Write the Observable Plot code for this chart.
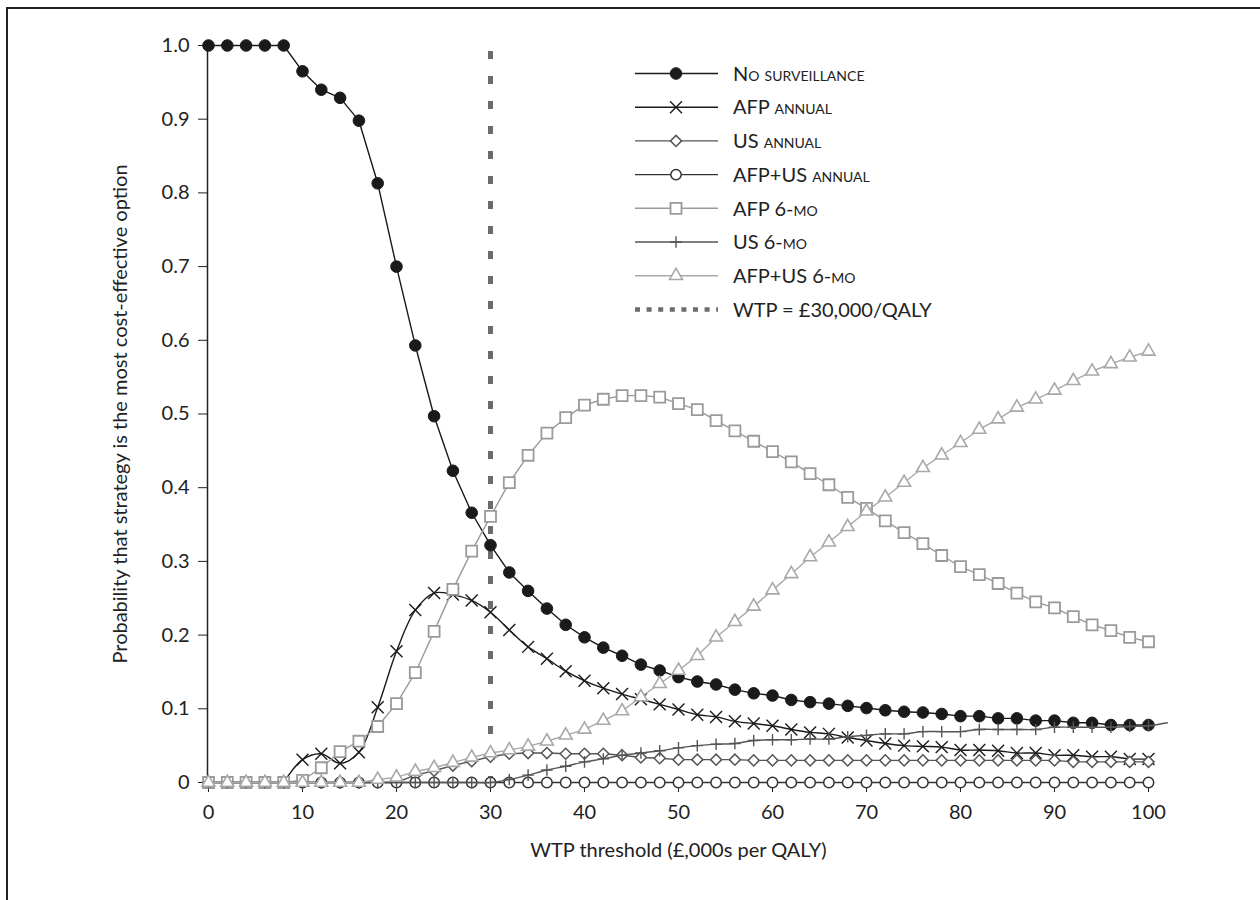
<!DOCTYPE html>
<html><head><meta charset="utf-8">
<script src="https://cdn.jsdelivr.net/npm/d3@7"></script>
<script src="https://cdn.jsdelivr.net/npm/@observablehq/plot@0.6"></script>
<style>
html,body{margin:0;padding:0;background:#fff;}
#chart{position:relative;width:1260px;height:900px;}
</style></head><body><div id="chart"></div>
<script>
// ---- data ----
const wtp = [0,2,4,6,8,10,12,14,16,18,20,22,24,26,28,30,32,34,36,38,40,42,44,46,48,50,52,54,56,58,60,62,64,66,68,70,72,74,76,78,80,82,84,86,88,90,92,94,96,98,100];
const noSurveillance = [1.0,1.0,1.0,1.0,1.0, 0.965,0.940,0.929,0.898,0.813, 0.700,0.593,0.497,0.423,0.366, 0.322,0.285,0.260,0.236,0.214, 0.197,0.183,0.172,0.160,0.152, 0.143,0.137,0.133,0.126,0.121, 0.118,0.112,0.109,0.107,0.104, 0.101,0.098,0.096,0.095,0.093, 0.090,0.090,0.087,0.087,0.084, 0.084,0.081,0.081,0.078,0.078, 0.078];
const afpAnnual = [null,null,null,null,0, 0.031,0.039,0.026,0.041,0.102, 0.178,0.234,0.257,0.255,0.247, 0.231,0.207,0.184,0.168,0.151, 0.138,0.128,0.120,0.113,0.106, 0.099,0.092,0.089,0.083,0.080, 0.077,0.072,0.068,0.066,0.061, 0.057,0.053,0.050,0.049,0.048, 0.044,0.044,0.043,0.040,0.040, 0.037,0.037,0.035,0.035,0.032, 0.032];
const usAnnual = [0,0,0,0,0, 0,0,0,0,0, 0,0.010,0.016,0.023,0.029, 0.035,0.039,0.040,0.040,0.039, 0.039,0.039,0.037,0.034,0.033, 0.031,0.031,0.031,0.031,0.030, 0.030,0.030,0.030,0.030,0.030, 0.030,0.030,0.030,0.030,0.030, 0.030,0.030,0.030,0.030,0.030, 0.030,0.028,0.028,0.028,0.028, 0.028];
const afpUsAnnual = [0,0,0,0,0, 0,0,0,0,0, 0,0,0,0,0, 0,0,0,0,0, 0,0,0,0,0, 0,0,0,0,0, 0,0,0,0,0, 0,0,0,0,0, 0,0,0,0,0, 0,0,0,0,0, 0];
const afp6mo = [0,0,0,0,0, 0.003,0.020,0.042,0.056,0.076, 0.107,0.149,0.205,0.262,0.314, 0.361,0.407,0.444,0.474,0.495, 0.512,0.520,0.525,0.525,0.523, 0.514,0.506,0.491,0.477,0.463, 0.449,0.435,0.419,0.404,0.387, 0.372,0.355,0.339,0.324,0.308, 0.293,0.282,0.270,0.257,0.245, 0.237,0.225,0.214,0.206,0.197, 0.191];
const us6mo = [0,0,0,0,0, 0,0,0,0,0, 0,0,0,0,0, 0,0.004,0.010,0.017,0.022, 0.028,0.032,0.037,0.040,0.043, 0.047,0.050,0.052,0.053,0.057, 0.058,0.058,0.059,0.059,0.062, 0.064,0.066,0.066,0.069,0.069, 0.069,0.072,0.072,0.072,0.072, 0.075,0.075,0.075,0.075,0.076, 0.077];
const us6moLineEnd = {wtp: 102, p: 0.081};
const afpUs6mo = [0,0,0,0,0, 0,0,0,0,0.004, 0.007,0.015,0.020,0.027,0.034, 0.040,0.044,0.049,0.056,0.064, 0.072,0.084,0.097,0.116,0.134, 0.152,0.172,0.197,0.218,0.239, 0.261,0.283,0.306,0.326,0.347, 0.368,0.387,0.407,0.427,0.444, 0.461,0.479,0.493,0.509,0.520, 0.532,0.545,0.558,0.568,0.577, 0.585];

const seriesNames = ["No surveillance","AFP annual","US annual","AFP+US annual","AFP 6-mo","US 6-mo","AFP+US 6-mo"];
const seriesValues = [noSurveillance, afpAnnual, usAnnual, afpUsAnnual, afp6mo, us6mo, afpUs6mo];
const wtpThreshold = 30;
const wtpLegend = "WTP = £30,000/QALY";
const xTicks = [0,10,20,30,40,50,60,70,80,90,100];
const yTicks = [0,0.1,0.2,0.3,0.4,0.5,0.6,0.7,0.8,0.9,1.0];
const yTickLabels = ["0","0.1","0.2","0.3","0.4","0.5","0.6","0.7","0.8","0.9","1.0"];
const xTitle = "WTP threshold (£,000s per QALY)";
const yTitle = "Probability that strategy is the most cost-effective option";

// ---- styles ----
const styles = [
  {symbol:"circle",   r:5.8, fill:"#1a1a1a", stroke:"#1a1a1a", sw:1,   line:"#1a1a1a", curve:"linear"},
  {symbol:"times",    r:5.5, fill:"none",    stroke:"#1a1a1a", sw:1.4, line:"#1a1a1a", curve:"catmull-rom"},
  {symbol:"diamond2", r:5.0, fill:"white",   stroke:"#555",    sw:1.5, line:"#555",    curve:"linear"},
  {symbol:"circle",   r:5.2, fill:"white",   stroke:"#333",    sw:1.5, line:"#333",    curve:"linear"},
  {symbol:"square",   r:6.2, fill:"white",   stroke:"#9a9a9a", sw:1.8, line:"#9a9a9a", curve:"linear"},
  {symbol:"plus",     r:3.8, fill:"none",    stroke:"#555",    sw:1.4, line:"#555",    curve:"catmull-rom"},
  {symbol:"triangle", r:4.8, fill:"white",   stroke:"#a8a8a8", sw:1.6, line:"#a8a8a8", curve:"linear"}
];

const series = seriesValues.map((vals, s) =>
  wtp.map((x, i) => ({wtp: x, p: vals[i]})).filter(d => d.p != null));

const marks = [
  Plot.ruleX([wtpThreshold], {stroke:"#6b6b6b", strokeWidth:5, strokeDasharray:"8,17", insetTop:6, insetBottom:-10}),
  Plot.ruleX([0], {stroke:"#222", strokeWidth:1.5, dx:-1})
];
series.forEach((data, s) => {
  const st = styles[s];
  const lineData = s === 5 ? data.concat([us6moLineEnd]) : data;
  marks.push(Plot.line(lineData, {x:"wtp", y:"p", stroke:st.line, strokeWidth:1.4, curve:st.curve}));
  const dotData = s === 1 ? data.filter(d => d.p > 0) : data;
  marks.push(Plot.dot(dotData, {x:"wtp", y:"p", symbol:st.symbol, r:st.r, fill:st.fill, stroke:st.stroke, strokeWidth:st.sw}));
});
marks.push(Plot.text([xTitle], {frameAnchor:"bottom", dy:74, fontSize:20, fill:"#222", textAnchor:"middle"}));
marks.push(Plot.text([yTitle], {frameAnchor:"left", dx:-88, rotate:-90, fontSize:20, fill:"#222", textAnchor:"middle"}));

const plot = Plot.plot({
  width: 1260, height: 900,
  marginTop: 45, marginBottom: 118, marginLeft: 208, marginRight: 112,
  style: {fontFamily: "Lato, 'Open Sans', sans-serif", fontSize: "20px", color: "#222", background: "white", overflow: "visible"},
  x: {domain: [0, 100], ticks: xTicks, tickSize: 10, tickPadding: 12, tickFormat: d => String(d), label: null},
  y: {domain: [0, 1], ticks: yTicks, tickSize: 10, tickPadding: 9, tickFormat: d => yTickLabels[yTicks.indexOf(d)], label: null},
  marks
});
document.getElementById("chart").appendChild(plot);

// ---- frame + legend drawn on top of the plot's svg ----
const svg = d3.select(plot.tagName.toLowerCase() === "svg" ? plot : plot.querySelector("svg"));
svg.append("path").attr("d", "M7,900V8H1260").attr("fill", "none").attr("stroke", "#222").attr("stroke-width", 2);

const symbolTypes = {circle: d3.symbolCircle, times: d3.symbolTimes, diamond2: d3.symbolDiamond2, square: d3.symbolSquare, plus: d3.symbolPlus, triangle: d3.symbolTriangle};
const lg = svg.append("g").attr("font-family", "Lato, 'Open Sans', sans-serif").attr("font-size", 20).attr("fill", "#222").attr("text-anchor", "start");
const rowY = i => 73.5 + 33.7 * i;
seriesNames.forEach((name, i) => {
  const st = styles[i];
  const y = rowY(i);
  lg.append("line").attr("x1", 635).attr("x2", 718).attr("y1", y).attr("y2", y).attr("stroke", st.line).attr("stroke-width", 1.4);
  lg.append("path").attr("transform", `translate(676,${y})`)
    .attr("d", d3.symbol(symbolTypes[st.symbol], Math.PI * st.r * st.r)())
    .attr("fill", st.fill).attr("stroke", st.stroke).attr("stroke-width", st.sw);
  lg.append("text").attr("x", 733).attr("y", y).attr("dy", "0.36em").attr("text-anchor", "start")
    .style("font-variant", "small-caps").text(name);
});
const wy = rowY(7);
lg.append("line").attr("x1", 635).attr("x2", 718).attr("y1", wy).attr("y2", wy).attr("stroke", "#6b6b6b").attr("stroke-width", 4.5).attr("stroke-dasharray", "5,6.6");
lg.append("text").attr("x", 733).attr("y", wy).attr("dy", "0.36em").attr("text-anchor", "start").text(wtpLegend);
</script></body></html>
